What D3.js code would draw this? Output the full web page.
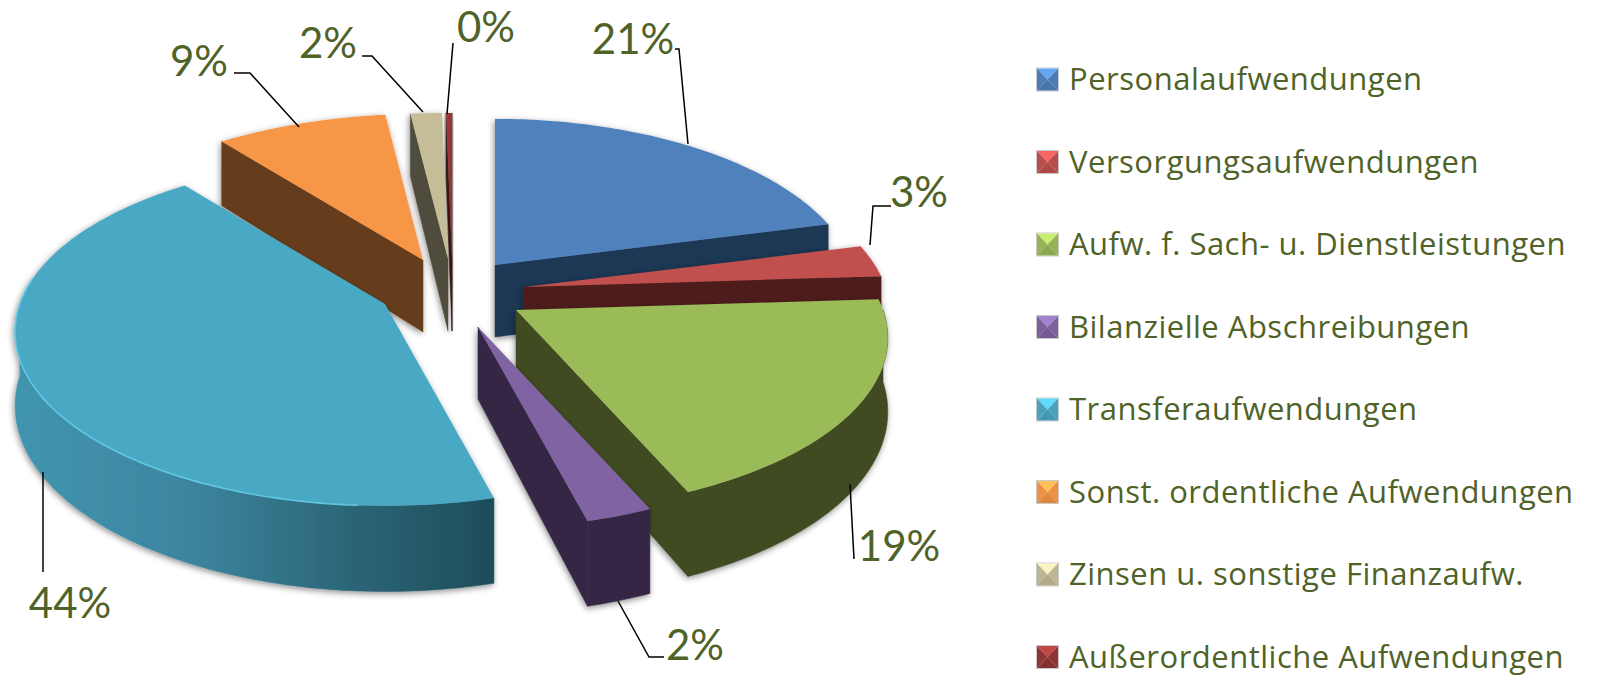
<!DOCTYPE html>
<html><head><meta charset="utf-8">
<script src="https://cdn.jsdelivr.net/npm/d3@7/dist/d3.min.js"></script>
<style>html,body{margin:0;padding:0;background:#fff}svg{display:block}text{font-family:Lato,"Open Sans",sans-serif;fill:#4f6228}.legtxt{font-family:"Open Sans",sans-serif;letter-spacing:.5px}</style>
</head><body><svg id="c" width="1598" height="678"></svg>
<script>
const categories = ["Personalaufwendungen","Versorgungsaufwendungen","Aufw. f. Sach- u. Dienstleistungen","Bilanzielle Abschreibungen","Transferaufwendungen","Sonst. ordentliche Aufwendungen","Zinsen u. sonstige Finanzaufw.","Außerordentliche Aufwendungen"];
const values = [21, 3, 19.49, 2.49, 43.5, 8.7, 1.6, 0.3];
const percentLabels = ["21%","3%","19%","2%","44%","9%","2%","0%"];
const topColors = ["#4f81bd","#c0504d","#9bbb59","#8064a2","#4aa9c4","#f79646","#c4bd97","#953735"];
const wallColors = ["#1f3854","#4f1f1c","#3f4b24","#352845","url(#tealWall)","#663d1a","#4f4c3c","#3b1614"];

// layout of the exploded slices (apex on screen)
const apexX = [495,524,516,478,385,423,448,452];
const apexY = [265,287,310,327,304,260,259,259];
const widthFactor = [0.975,0.985,1,1,0.995,1,1,1];
const paintOrder = [0,7,6,5,1,2,3,4];
const rx = d3.scaleLinear().domain([0,1]).range([0,367]);
const ry = d3.scaleLinear().domain([0,1]).range([0,169.5]);
const persp = 0.16, depth = 72;

const svg = d3.select("#c");
const defs = svg.append("defs");
const f = defs.append("filter").attr("id","sh").attr("x","-20%").attr("y","-20%").attr("width","140%").attr("height","140%");
f.append("feDropShadow").attr("dx",-1).attr("dy",2).attr("stdDeviation",3).attr("flood-color","#000").attr("flood-opacity",0.45);
const g = defs.append("linearGradient").attr("id","tealWall").attr("gradientUnits","userSpaceOnUse").attr("x1",15).attr("x2",489).attr("y1",0).attr("y2",0);
[[0,"#4195ae"],[0.35,"#3d86a0"],[0.7,"#2c6678"],[1,"#1f4d5b"]].forEach(s=>g.append("stop").attr("offset",s[0]).attr("stop-color",s[1]));

const arcs = d3.pie().sort(null).startAngle(0).endAngle(2*Math.PI)(values);
const line = d3.line();

function proj(i,a,down){
  const s = 1/(1+persp*Math.cos(a));
  return [apexX[i]+rx(Math.sin(a)*s)*widthFactor[i], apexY[i]-ry(Math.cos(a)*s)+(down?depth*s:0)];
}
function apex(i,down){return [apexX[i],apexY[i]+(down?depth:0)];}
function rim(i,a0,a1,down){
  const n=Math.max(2,Math.ceil(Math.abs(a1-a0)/(Math.PI/180)));
  return d3.range(n+1).map(k=>proj(i,a0+(a1-a0)*k/n,down));
}
function cross(u,v){return u[0]*v[1]-u[1]*v[0];}

paintOrder.forEach(i=>{
  const d=arcs[i], a0=d.startAngle, a1=d.endAngle;
  const G=svg.append("g").attr("filter","url(#sh)");
  const A=apex(i,false), mid=proj(i,(a0+a1)/2,false);
  [a0,a1].forEach(a=>{
    const R=proj(i,a,false), u=[R[0]-A[0],R[1]-A[1]], I=[mid[0]-A[0],mid[1]-A[1]];
    if(cross(u,[0,1])*cross(u,I)<0){
      G.append("path").attr("fill",wallColors[i]).attr("stroke",wallColors[i]).attr("stroke-width",.5)
       .attr("d",line([A,R,proj(i,a,true),apex(i,true)])+"Z");
    }
  });
  const w0=Math.max(a0,Math.PI/2), w1=Math.min(a1,3*Math.PI/2);
  if(w1>w0){
    const top=rim(i,w0,w1,false), bot=rim(i,w0,w1,true).reverse();
    G.append("path").attr("fill",wallColors[i]).attr("stroke",wallColors[i]).attr("stroke-width",.5).attr("d",line(top.concat(bot))+"Z");
  }
  G.append("path").attr("fill",topColors[i]).attr("d",line([A].concat(rim(i,a0,a1,false)))+"Z");
  if(i===4){
    G.append("path").attr("fill","none").attr("stroke","#62c8e2").attr("stroke-width",1.6).attr("d",line(rim(i,Math.PI*1.02,Math.PI*1.55,false)));
  }
});

// leader lines
const leaders = [
 [[675,49],[679,49],[688,144]],
 [[891,206],[873,206],[870,245]],
 [[854,559],[850,484]],
 [[618,601],[649,657],[664,657]],
 [[43,472],[43,572]],
 [[234,73],[250,73],[299,127]],
 [[362,56],[372,56],[423,112]],
 [[453,43],[447,114]]
];
const labelX=[633,919,899,695,70,199,328,486];
const labelY=[39,192,546,645,603,61,43,27];
leaders.forEach(l=>svg.append("path").attr("fill","none").attr("stroke","#000").attr("stroke-width",1.5).attr("d",line(l)));
svg.selectAll("text.pct").data(percentLabels).join("text").attr("class","pct")
  .attr("x",(d,i)=>labelX[i]).attr("y",(d,i)=>labelY[i]).attr("dy","0.36em")
  .attr("text-anchor","middle").attr("font-size",42).text(d=>d);

// legend
const legendY = d3.scalePoint().domain(categories).range([79.5,657]);
const lg = svg.selectAll("g.leg").data(categories).join("g").attr("class","leg")
  .attr("transform",d=>`translate(1037,${legendY(d)})`);
lg.each(function(d,i){
  const S=d3.select(this), c=d3.color(topColors[i]), z=11;
  S.append("rect").attr("x",-.5).attr("y",-z-.5).attr("width",22).attr("height",23).attr("fill","none").attr("stroke","#c9c9c9");
  const tri=(p,col)=>S.append("path").attr("fill",col).attr("d",line(p)+"Z");
  tri([[0,-z],[21,-z],[10.5,0]],c.brighter(0.7));
  tri([[0,-z],[10.5,0],[0,z]],c.darker(0.1));
  tri([[21,-z],[10.5,0],[21,z]],c.darker(0.1));
  tri([[0,z],[21,z],[10.5,0]],c.darker(0.3));
  S.append("text").attr("class","legtxt").attr("x",32).attr("dy","0.35em").attr("font-size",31).text(d);
});
</script></body></html>
